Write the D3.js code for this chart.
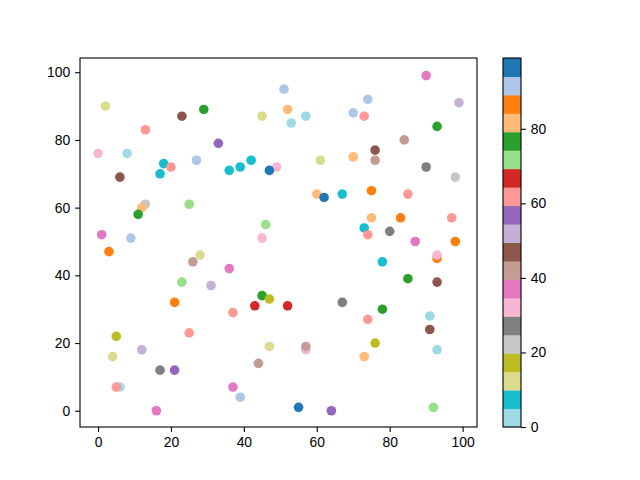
<!DOCTYPE html>
<html lang="en">
<head>
<meta charset="UTF-8">
<title>Scatter with colorbar</title>
<style>
    body, html { margin: 0; padding: 0; background: #fff; }
    svg text { font-family: "Liberation Sans", Arial, sans-serif; font-size: 13.9px; fill: #000; }
</style>
</head>
<body>
<svg id="svg" width="640" height="480"></svg>
<script src="https://d3js.org/d3.v7.min.js"></script>
<script>
// point data, in drawing order
const xs = [2, 29, 23, 13, 33, 0, 8, 18, 20, 27, 17, 6, 13, 12, 11, 25, 1, 9,
            51, 52, 45, 53, 57, 70, 36, 39, 42, 49, 47, 61, 70, 60, 62, 67, 46, 45,
            90, 74, 73, 99, 93, 84, 76, 76, 90, 98, 75, 85, 75, 83, 97, 73, 74, 80, 87, 98,
            3, 28, 26, 23, 31, 21, 5, 25, 12, 4, 17, 21, 6, 5, 16,
            36, 45, 47, 43, 52, 37, 67, 47, 57, 57, 44, 37, 39, 55, 64,
            93, 93, 78, 85, 93, 78, 74, 91, 91, 76, 73, 93, 92];
const ys = [90, 89, 87, 83, 79, 76, 76, 73, 72, 74, 70, 69, 61, 60, 58, 61, 52, 51,
            95, 89, 87, 85, 87, 88, 71, 72, 74, 72, 71, 74, 75, 64, 63, 64, 55, 51,
            99, 92, 87, 91, 84, 80, 77, 74, 72, 69, 65, 64, 57, 57, 57, 54, 52, 53, 50, 50,
            47, 46, 44, 38, 37, 32, 22, 23, 18, 16, 12, 12, 7, 7, 0,
            42, 34, 33, 31, 31, 29, 32, 19, 18, 19, 14, 7, 4, 1, 0,
            45, 46, 44, 39, 38, 30, 27, 28, 24, 20, 16, 18, 1];
const cs = [12, 77, 47, 62, 57, 32, 2, 7, 62, 92, 7, 47, 22, 82, 77, 72, 37, 92,
            92, 82, 12, 2, 2, 92, 7, 7, 7, 32, 97, 12, 82, 82, 97, 7, 72, 32,
            37, 92, 62, 52, 77, 42, 47, 42, 27, 22, 87, 62, 82, 87, 62, 7, 62, 27, 37, 87,
            87, 12, 42, 72, 52, 87, 17, 62, 52, 12, 27, 57, 2, 62, 37,
            37, 77, 17, 67, 67, 62, 27, 12, 32, 42, 42, 37, 92, 97, 57,
            87, 32, 7, 77, 47, 77, 62, 2, 47, 17, 82, 2, 72];
const xTicks = [0, 20, 40, 60, 80, 100];
const yTicks = [0, 20, 40, 60, 80, 100];
const cTicks = [0, 20, 40, 60, 80];
const cMin = 0, cMax = 99;

// tab20 reversed
const tab20r = ["#9edae5", "#17becf", "#dbdb8d", "#bcbd22", "#c7c7c7", "#7f7f7f",
                "#f7b6d2", "#e377c2", "#c49c94", "#8c564b", "#c5b0d5", "#9467bd",
                "#ff9896", "#d62728", "#98df8a", "#2ca02c", "#ffbb78", "#ff7f0e",
                "#aec7e8", "#1f77b4"];

const plot = { left: 80, right: 477, top: 58, bottom: 427 };
const cbar = { left: 503, right: 521, top: 58, bottom: 427 };

const svg = d3.select('#svg');

const xscale = d3.scaleLinear().domain([-4.95, 103.95]).range([plot.left, plot.right]);
const yscale = d3.scaleLinear().domain([-4.8, 104.2]).range([plot.bottom, plot.top]);
const color = d3.scaleQuantize().domain([cMin, cMax]).range(tab20r);

// points
svg.append('g')
    .selectAll('circle')
    .data(d3.range(xs.length))
    .join('circle')
    .attr('cx', i => xscale(xs[i]))
    .attr('cy', i => yscale(ys[i]))
    .attr('r', 4.8)
    .attr('fill', i => color(cs[i]));

// axes
const styleAxis = g => {
    g.select('.domain').remove();
    g.selectAll('line').attr('stroke', '#000').attr('stroke-width', 1.1);
    g.selectAll('text').attr('fill', '#000').style('font-size', '13.9px');
};

svg.append('g')
    .attr('transform', `translate(0, ${plot.bottom})`)
    .call(d3.axisBottom(xscale).tickValues(xTicks).tickSize(4.9).tickPadding(4.9))
    .call(styleAxis);

svg.append('g')
    .attr('transform', `translate(${plot.left}, 0)`)
    .call(d3.axisLeft(yscale).tickValues(yTicks).tickSize(4.9).tickPadding(4.9))
    .call(styleAxis);

svg.append('rect')
    .attr('x', plot.left).attr('y', plot.top)
    .attr('width', plot.right - plot.left).attr('height', plot.bottom - plot.top)
    .attr('fill', 'none').attr('stroke', '#000').attr('stroke-width', 1.1);

// colorbar
const cscale = d3.scaleLinear().domain([cMin, cMax]).range([cbar.bottom, cbar.top]);
const bins = color.thresholds();
const edges = [cMin, ...bins, cMax];

svg.append('g')
    .selectAll('rect')
    .data(tab20r)
    .join('rect')
    .attr('x', cbar.left)
    .attr('width', cbar.right - cbar.left)
    .attr('y', (d, i) => cscale(edges[i + 1]))
    .attr('height', (d, i) => cscale(edges[i]) - cscale(edges[i + 1]) + 0.5)
    .attr('fill', d => d);

svg.append('g')
    .attr('transform', `translate(${cbar.right}, 0)`)
    .call(d3.axisRight(cscale).tickValues(cTicks).tickSize(4.9).tickPadding(4.9))
    .call(styleAxis);

svg.append('rect')
    .attr('x', cbar.left).attr('y', cbar.top)
    .attr('width', cbar.right - cbar.left).attr('height', cbar.bottom - cbar.top)
    .attr('fill', 'none').attr('stroke', '#000').attr('stroke-width', 1.1);
</script>
</body>
</html>
